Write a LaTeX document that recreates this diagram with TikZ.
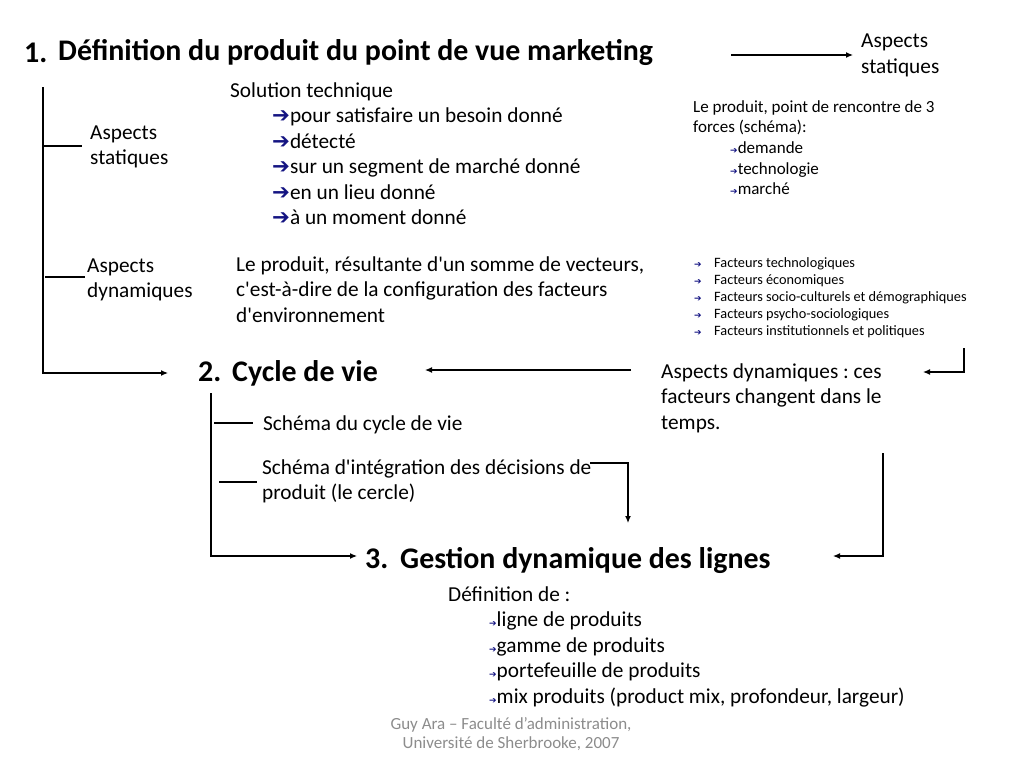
\documentclass[tikz,border=0pt]{standalone}
\usepackage{fontspec}
\setmainfont{Carlito}[Ligatures=TeXOff]
\newfontfamily\symfont{DejaVu Sans}
\usepackage{xcolor}
\usetikzlibrary{arrows.meta,positioning}

\definecolor{bulnavy}{RGB}{20,20,130}
\definecolor{footgray}{RGB}{140,140,140}
\newcommand{\barr}{{\color{bulnavy}\symfont ➔}}
\newcommand{\sarr}{{\color{bulnavy}\fontsize{9}{9}\symfont ➔}}
\newcommand{\fbul}{\makebox[20pt][l]{\sarr}}
\frenchspacing

\begin{document}
\begin{tikzpicture}[x=1pt, y=-1pt,
        num/.style={inner sep=0, anchor=base west, font=\bfseries\fontsize{30}{36}\selectfont},
        head/.style={inner sep=0, anchor=base west, font=\bfseries\fontsize{29.9}{36}\selectfont},
        body/.style={inner sep=0, anchor=base west, align=left, font=\fontsize{21.3}{25.5}\selectfont},
        note/.style={body, font=\fontsize{17}{20.7}\selectfont},
        tiny/.style={body, font=\fontsize{14.3}{17}\selectfont},
        foot/.style={inner sep=0, anchor=base, align=center, text=footgray, font=\fontsize{17}{19.5}\selectfont},
        link/.style={line width=1.2pt},
        arrow/.style={link, -{Latex[length=7pt,width=6pt]}}
    ]
        \useasboundingbox (0,0) rectangle (1024,768);

        % 1. definition (multi-line nodes sit on their last baseline)
        \node[num] (n1) at (24,63) {1.};
        \node[head] (t1) at (58,60) {Définition du produit du point de vue marketing};
        \node[body] (stat) at (90,164.5) {Aspects\\statiques};
        \node[body] (dyn) at (87,297.5) {Aspects\\dynamiques};
        \node[body] (sol) at (230,224.5) {Solution technique\\
            \hspace*{42pt}\barr pour satisfaire un besoin donné\\
            \hspace*{42pt}\barr détecté\\
            \hspace*{42pt}\barr sur un segment de marché donné\\
            \hspace*{42pt}\barr en un lieu donné\\
            \hspace*{42pt}\barr à un moment donné};
        \node[body] (res) at (236,322) {Le produit, résultante d'un somme de vecteurs,\\c'est-à-dire de la configuration des facteurs\\d'environnement};

        % right column
        \node[body] (statR) at (861,73.5) {Aspects\\statiques};
        \node[note] (force) at (693,194.8) {Le produit, point de rencontre de 3\\forces (schéma):\\
            \hspace*{37pt}\sarr demande\\
            \hspace*{37pt}\sarr technologie\\
            \hspace*{37pt}\sarr marché};
        \node[tiny] (fact) at (694,335) {\fbul Facteurs technologiques\\
            \fbul Facteurs économiques\\
            \fbul Facteurs socio-culturels et démographiques\\
            \fbul Facteurs psycho-sociologiques\\
            \fbul Facteurs institutionnels et politiques};
        \node[body] (dynR) at (661,429) {Aspects dynamiques : ces\\facteurs changent dans le\\temps.};

        % 2. cycle de vie
        \node[num] (n2) at (198,381) {2.};
        \node[head] (t2) at (232,381) {Cycle de vie};
        \node[body] (cyc) at (263,430) {Schéma du cycle de vie};
        \node[body] (circ) at (262,499.5) {Schéma d'intégration des décisions de\\produit (le cercle)};

        % 3. gestion des lignes
        \node[num] (n3) at (365,568) {3.};
        \node[head] (t3) at (400,568) {Gestion dynamique des lignes};
        \node[body] (defn) at (448,703) {Définition de :\\
            \hspace*{41pt}\sarr ligne de produits\\
            \hspace*{41pt}\sarr gamme de produits\\
            \hspace*{41pt}\sarr portefeuille de produits\\
            \hspace*{41pt}\sarr mix produits (product mix, profondeur, largeur)};
        \node[foot] (src) at (511,748.5) {Guy Ara – Faculté d’administration,\\Université de Sherbrooke, 2007};

        % connectors
        \coordinate (s1) at (731,55);  \coordinate (s2) at (853,55);
        \coordinate (v1) at (43,87);   \coordinate (v1e) at (168,373);
        \coordinate (k1) at (43,146);  \coordinate (k1e) at (82,146);
        \coordinate (k2) at (45,277);  \coordinate (k2e) at (85,277);
        \coordinate (d1) at (631,370); \coordinate (d1e) at (425,370);
        \coordinate (f1) at (964,348); \coordinate (f1e) at (923,372);
        \coordinate (v2) at (211,393); \coordinate (v2e) at (357,556);
        \coordinate (k3) at (214,423); \coordinate (k3e) at (253,423);
        \coordinate (k4) at (219,482); \coordinate (k4e) at (257,482);
        \coordinate (c1) at (590,463); \coordinate (c1e) at (628,523);
        \coordinate (g1) at (883,453); \coordinate (g1e) at (833,556);

        \draw[arrow] (s1) -- (s2);
        \draw[arrow] (v1) |- (v1e);
        \draw[link] (k1) -- (k1e);
        \draw[link] (k2) -- (k2e);
        \draw[arrow] (d1) -- (d1e);
        \draw[arrow] (f1) |- (f1e);
        \draw[arrow] (v2) |- (v2e);
        \draw[link] (k3) -- (k3e);
        \draw[link] (k4) -- (k4e);
        \draw[arrow] (c1) -| (c1e);
        \draw[arrow] (g1) |- (g1e);
    \end{tikzpicture}
\end{document}
